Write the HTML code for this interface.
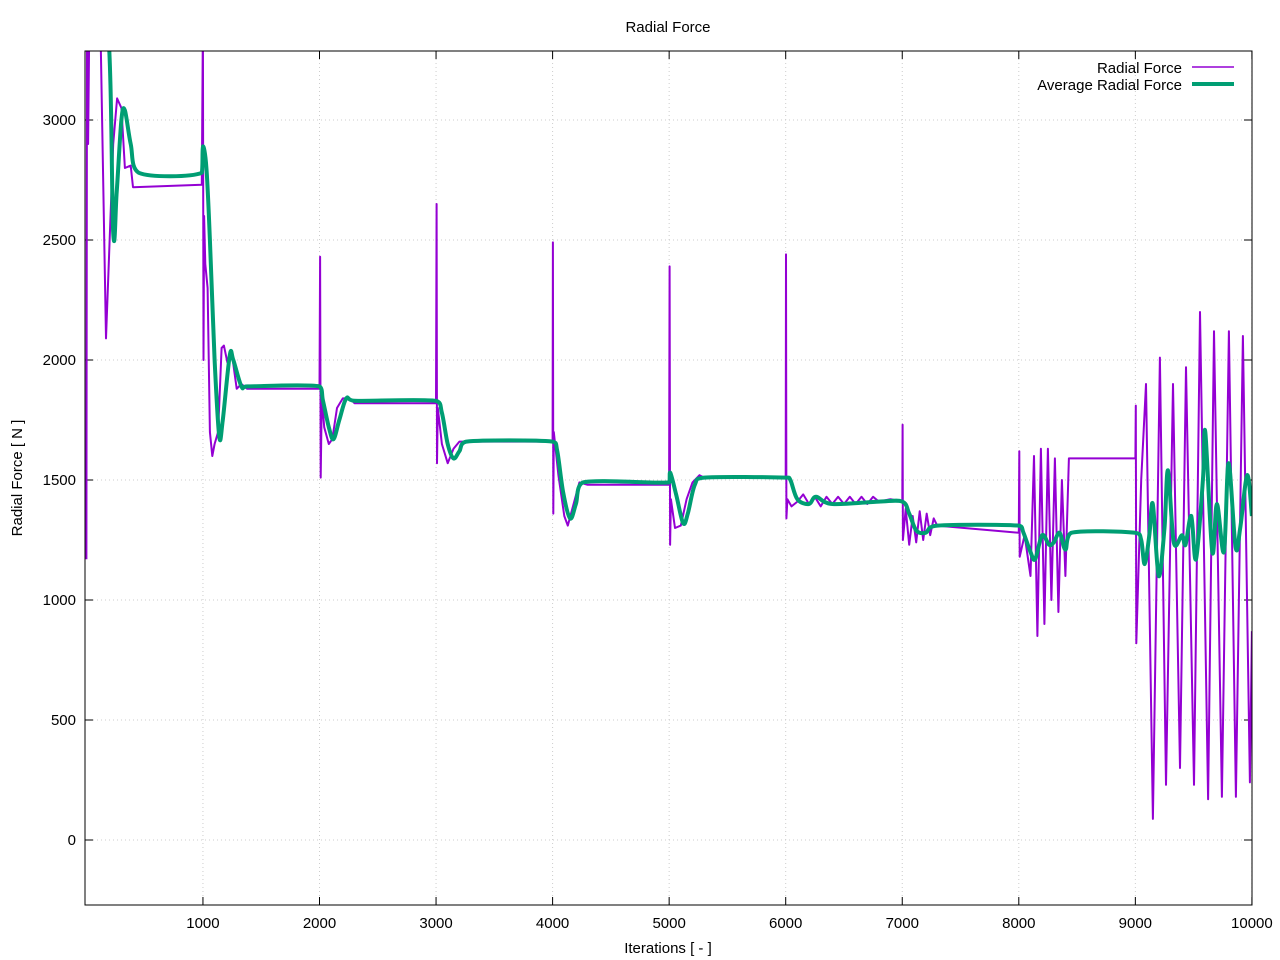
<!DOCTYPE html>
<html><head><meta charset="utf-8"><style>
html,body{margin:0;padding:0;background:#fff}
svg{display:block;font-family:"Liberation Sans",sans-serif}
</style></head><body>
<svg id="chart" width="1280" height="960">
<text x="668" y="32" text-anchor="middle" font-size="15">Radial Force</text>
<text x="668" y="953" text-anchor="middle" font-size="15">Iterations [ - ]</text>
<text transform="translate(22,478) rotate(-90)" text-anchor="middle" font-size="15">Radial Force [ N ]</text>
<defs><clipPath id="clip"><rect x="85" y="51" width="1167" height="854"/></clipPath></defs>
<g id="grid"></g><g id="ticks"></g>
<g clip-path="url(#clip)" id="series"></g>
<rect x="85" y="51" width="1167" height="854" fill="none" stroke="#000" stroke-width="1"/>
<g>
<text x="1182" y="73" text-anchor="end" font-size="15">Radial Force</text>
<line x1="1192" y1="67" x2="1234" y2="67" stroke="#9400d3" stroke-width="1.5"/>
<text x="1182" y="90" text-anchor="end" font-size="15">Average Radial Force</text>
<line x1="1192" y1="84" x2="1234" y2="84" stroke="#009e73" stroke-width="4"/>
</g>
</svg>
<script>
const xTicks=[1000,2000,3000,4000,5000,6000,7000,8000,9000,10000];
const yTicks=[0,500,1000,1500,2000,2500,3000];
const rfIter=[0,5,15,25,120,168,230,263,300,330,380,400,990,1000,1005,1010,1020,1040,1060,1080,1100,1130,1160,1180,1210,1250,1290,1330,1380,2000,2005,2010,2020,2040,2080,2110,2150,2200,2260,2300,3000,3005,3008,3015,3050,3100,3150,3200,3300,4000,4003,4006,4010,4050,4100,4130,4180,4230,4300,5000,5004,5008,5015,5050,5100,5150,5200,5260,5300,6000,6003,6006,6015,6050,6100,6150,6200,6250,6300,6350,6400,6450,6500,6550,6600,6650,6700,6750,6800,6900,7000,7003,7006,7030,7060,7090,7120,7150,7180,7210,7240,7270,7300,8000,8004,8008,8050,8100,8130,8160,8190,8220,8250,8280,8310,8340,8370,8400,8430,8450,9000,9004,9008,9050,9091,9151,9211,9263,9323,9383,9435,9503,9555,9624,9675,9743,9803,9863,9923,9983,10000];
const rfVal=[1170,3400,2900,3400,3400,2090,2900,3090,3050,2800,2810,2720,2730,3400,2000,2600,2400,2300,1700,1600,1650,1700,2050,2060,1990,2020,1880,1900,1880,1880,2430,1510,1850,1720,1650,1670,1800,1840,1840,1820,1820,2650,1570,1800,1650,1570,1630,1660,1660,1660,2490,1360,1700,1520,1350,1310,1400,1490,1480,1480,2390,1230,1420,1300,1310,1420,1490,1520,1510,1510,2440,1340,1420,1390,1410,1440,1400,1430,1390,1430,1400,1430,1400,1430,1400,1430,1400,1430,1410,1420,1410,1730,1250,1380,1230,1350,1240,1370,1250,1360,1270,1340,1310,1280,1620,1180,1270,1100,1600,850,1630,900,1630,1000,1590,950,1500,1100,1590,1590,1590,1810,820,1500,1900,88,2010,230,1900,300,1970,230,2200,170,2120,180,2120,180,2100,240,870];
const avIter=[0,180,230,260,300,330,380,450,990,1000,1030,1060,1100,1140,1170,1230,1260,1330,1380,2000,2030,2080,2120,2170,2230,2300,3000,3050,3100,3150,3200,3260,4000,4040,4090,4150,4200,4260,5000,5010,5060,5120,5160,5220,5300,6000,6040,6100,6200,6260,6400,6800,7000,7060,7120,7200,7300,8000,8040,8100,8140,8200,8260,8300,8350,8400,8450,9000,9050,9080,9120,9150,9200,9250,9280,9330,9400,9430,9480,9520,9580,9600,9660,9700,9760,9800,9860,9900,9960,10000];
const avVal=[3400,3400,2530,2700,3000,3040,2900,2780,2780,2890,2800,2500,2000,1680,1750,2020,2000,1890,1890,1890,1830,1720,1670,1750,1840,1830,1830,1780,1650,1590,1620,1660,1660,1620,1450,1340,1400,1490,1490,1530,1440,1320,1360,1480,1510,1510,1500,1420,1400,1430,1400,1410,1410,1360,1290,1280,1310,1310,1280,1200,1170,1270,1230,1240,1280,1210,1280,1280,1250,1150,1270,1400,1100,1300,1540,1240,1270,1230,1350,1170,1500,1700,1200,1400,1200,1570,1220,1300,1520,1350];
const X=v=>86.4+v*0.11655, Y=v=>840-v*0.24;
const NS="http://www.w3.org/2000/svg";
function mk(tag,attrs,parent){const e=document.createElementNS(NS,tag);for(const k in attrs)e.setAttribute(k,attrs[k]);parent.appendChild(e);return e;}
const grid=document.getElementById('grid'),ticks=document.getElementById('ticks'),ser=document.getElementById('series');
xTicks.forEach(t=>{const x=X(t);
 const g=mk('line',{x1:x,x2:x,y1:51,y2:905,stroke:'#ccc','stroke-dasharray':'1,3'},grid);
 
 
 mk('line',{x1:x,x2:x,y1:905,y2:897,stroke:'#000'},ticks);
 mk('line',{x1:x,x2:x,y1:51,y2:59,stroke:'#000'},ticks);
 const l=mk('text',{x:x,y:928,'text-anchor':'middle','font-size':15},ticks);l.textContent=t;
 
 
});
yTicks.forEach(t=>{const y=Y(t);
 const g=mk('line',{x1:85,x2:1252,y1:y,y2:y,stroke:'#ccc','stroke-dasharray':'1,3'},grid);
 
 
 mk('line',{x1:85,x2:93,y1:y,y2:y,stroke:'#000'},ticks);
 mk('line',{x1:1252,x2:1244,y1:y,y2:y,stroke:'#000'},ticks);
 const l=mk('text',{x:76,y:y+5,'text-anchor':'end','font-size':15},ticks);l.textContent=t;
 
 
});
function pts(a,b){return a.map((v,i)=>X(v).toFixed(1)+','+Y(b[i]).toFixed(1)).join(' ');}
function smooth(a,b){
 const P=a.map((v,i)=>[X(v),Y(b[i])]);
 let d='M'+P[0][0].toFixed(1)+','+P[0][1].toFixed(1);
 for(let i=0;i<P.length-1;i++){
  const p0=P[Math.max(0,i-1)],p1=P[i],p2=P[i+1],p3=P[Math.min(P.length-1,i+2)];
  const c1=[p1[0]+(p2[0]-p0[0])/6,p1[1]+(p2[1]-p0[1])/6];
  const c2=[p2[0]-(p3[0]-p1[0])/6,p2[1]-(p3[1]-p1[1])/6];
  c1[0]=Math.min(Math.max(c1[0],p1[0]),p2[0]);c2[0]=Math.min(Math.max(c2[0],p1[0]),p2[0]);
  d+=' C'+c1[0].toFixed(1)+','+c1[1].toFixed(1)+' '+c2[0].toFixed(1)+','+c2[1].toFixed(1)+' '+p2[0].toFixed(1)+','+p2[1].toFixed(1);
 }
 return d;
}
const p1=mk('polyline',{points:pts(rfIter,rfVal),fill:'none',stroke:'#9400d3','stroke-width':2,'stroke-linejoin':'round'},ser);


const p2=mk('path',{d:smooth(avIter,avVal),fill:'none',stroke:'#009e73','stroke-width':4,'stroke-linejoin':'round'},ser);


</script>
</body></html>
